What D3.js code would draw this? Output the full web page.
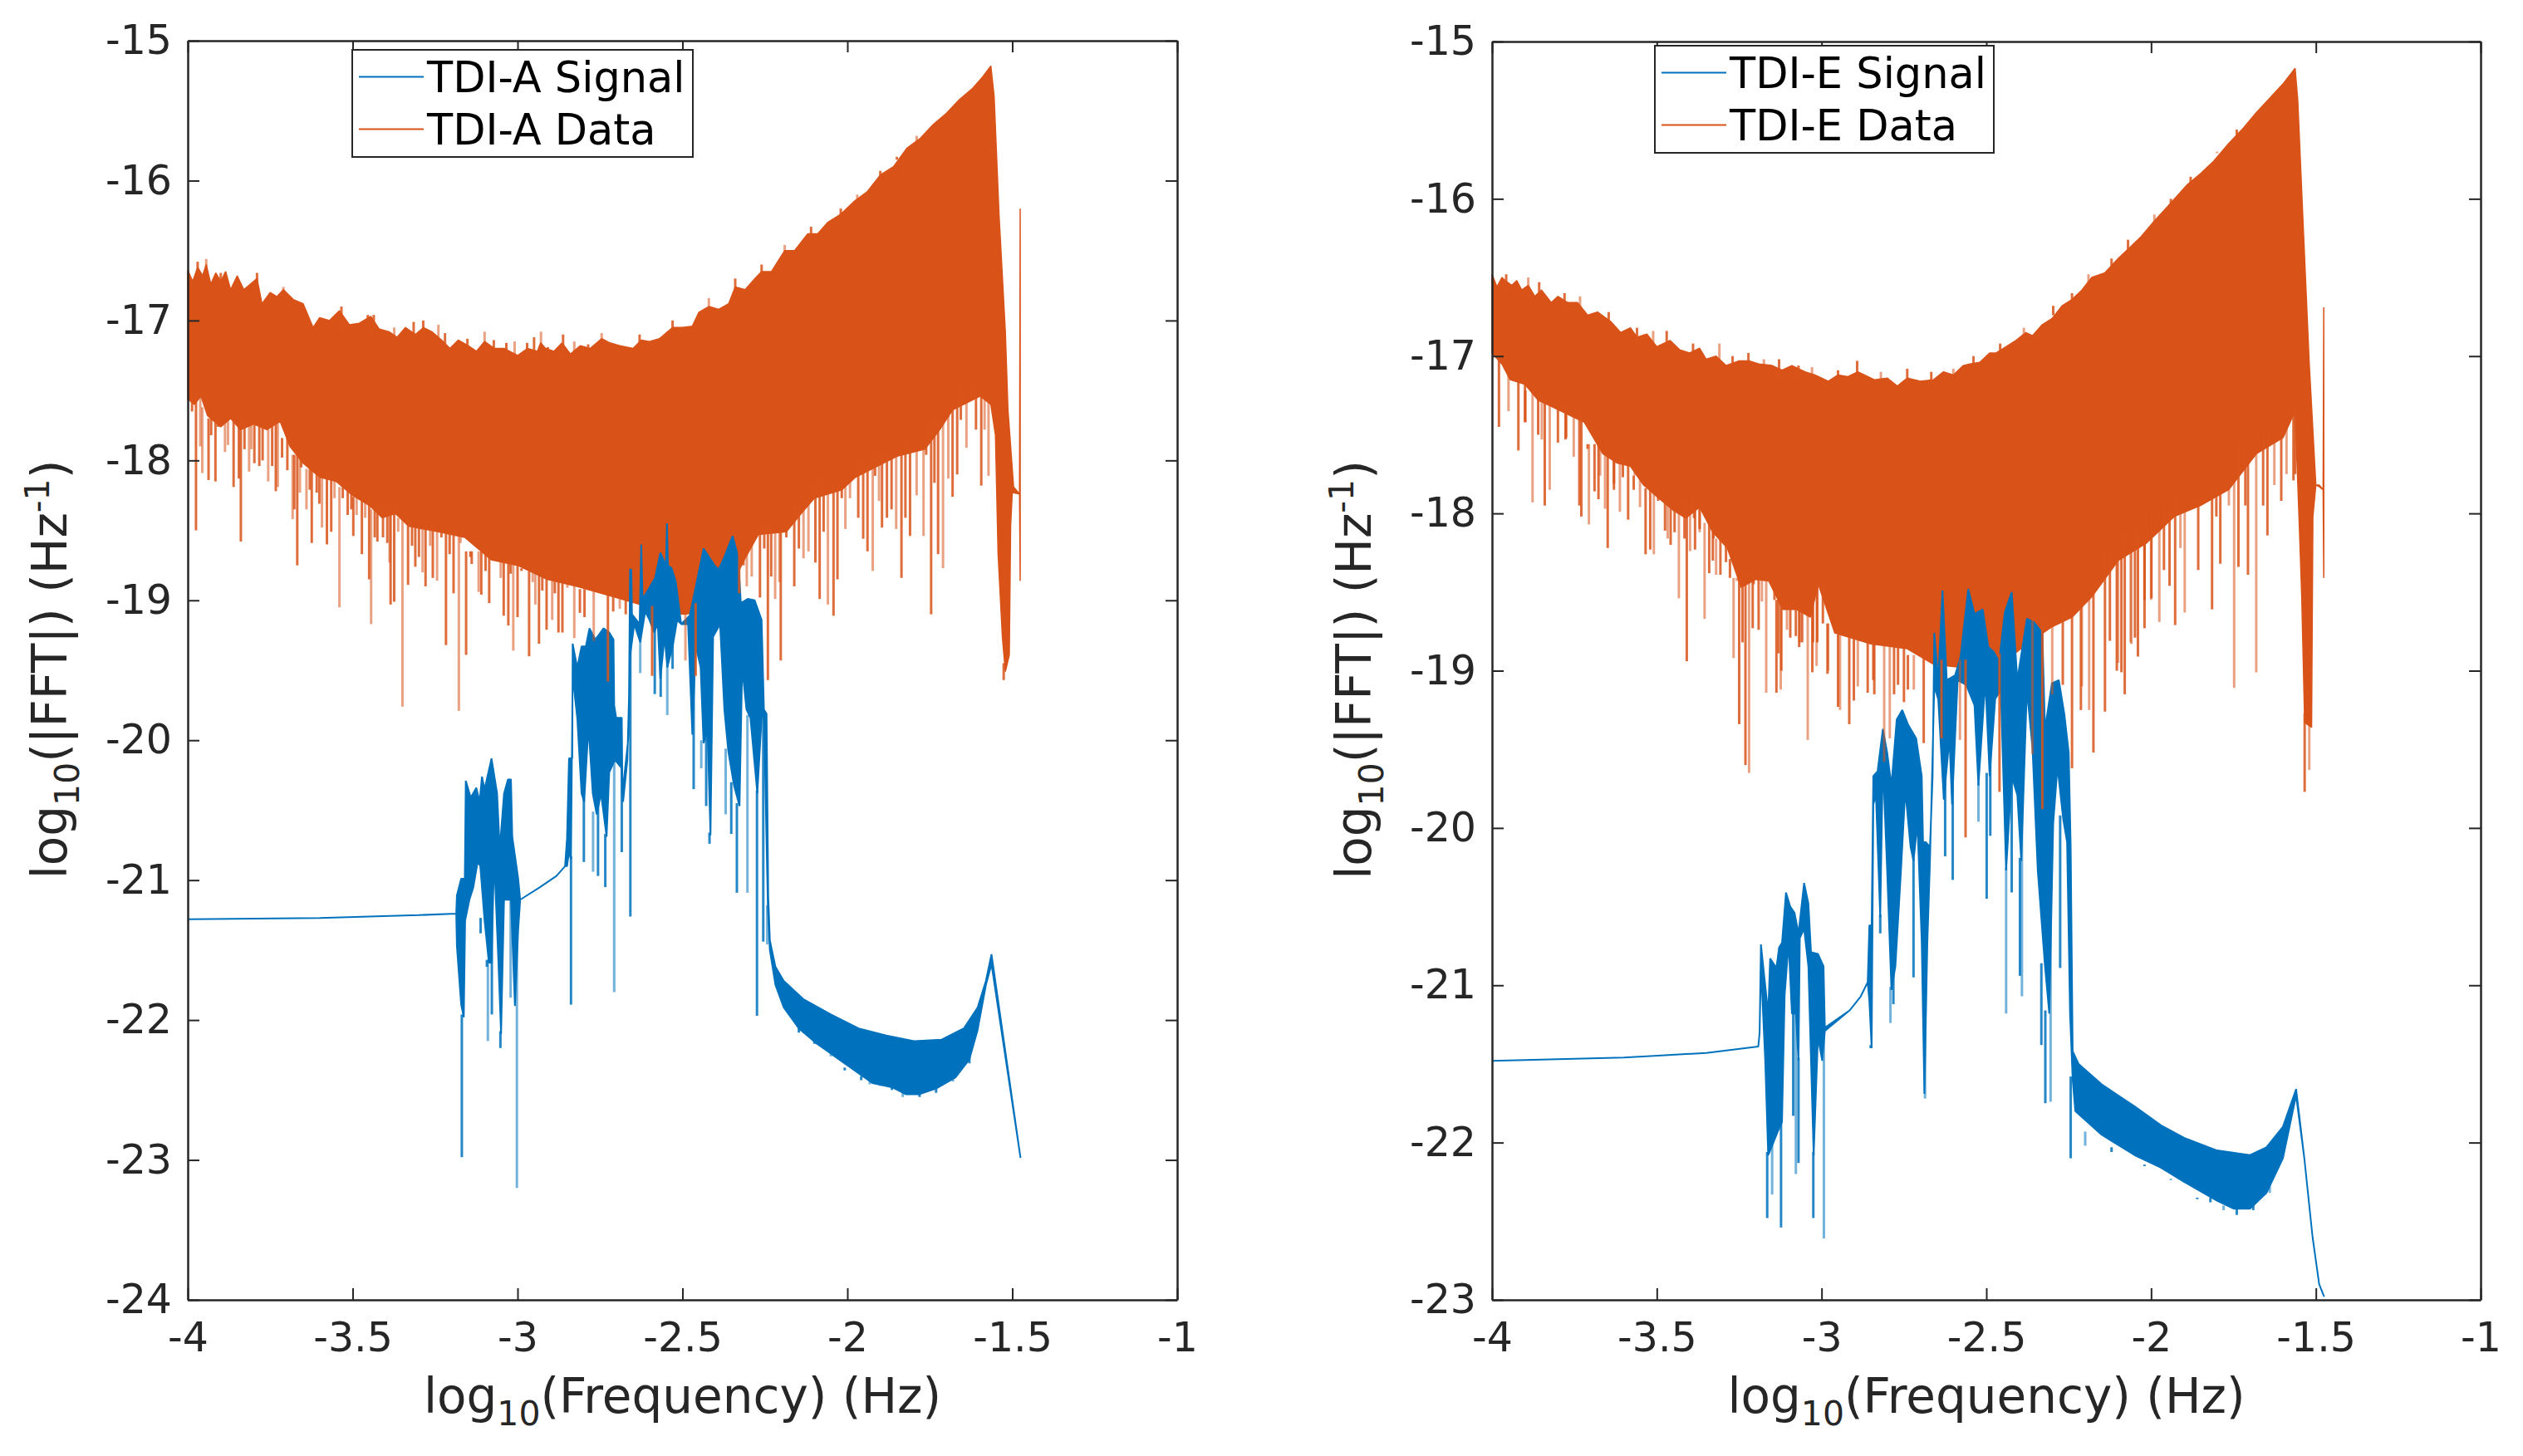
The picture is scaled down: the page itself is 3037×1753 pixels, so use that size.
<!DOCTYPE html>
<html>
<head>
  <meta charset="utf-8"/>
  <title>TDI A and E spectra</title>
  <script src="https://d3js.org/d3.v7.min.js"></script>
  <style>
    body { margin: 0; background: #fff; }
    text { font-family: "DejaVu Sans", sans-serif; fill: #262626; }
    .legend text { fill: #000; }
  </style>
</head>
<body>
<svg width="3037" height="1753"></svg>
<script>

const xTicks = [-4, -3.5, -3, -2.5, -2, -1.5, -1];
const yTicksA = [-24, -23, -22, -21, -20, -19, -18, -17, -16, -15];
const yTicksE = [-23, -22, -21, -20, -19, -18, -17, -16, -15];

// values: [log10 f, log10 |FFT|]
const dataTopA = [[-4,-16.64],[-3.985,-16.72],[-3.97,-16.62],[-3.955,-16.68],[-3.944,-16.6],[-3.93,-16.74],[-3.915,-16.66],[-3.9,-16.72],[-3.885,-16.65],[-3.87,-16.78],[-3.85,-16.68],[-3.83,-16.78],[-3.81,-16.74],[-3.79,-16.7],[-3.775,-16.88],[-3.75,-16.8],[-3.73,-16.83],[-3.71,-16.78],[-3.68,-16.85],[-3.65,-16.88],[-3.62,-17.05],[-3.6,-16.98],[-3.57,-17],[-3.54,-16.93],[-3.51,-17.03],[-3.48,-17.02],[-3.445,-16.97],[-3.42,-17.06],[-3.39,-17.08],[-3.365,-17.12],[-3.34,-17.05],[-3.31,-17.1],[-3.285,-17.05],[-3.26,-17.08],[-3.23,-17.14],[-3.205,-17.2],[-3.18,-17.14],[-3.15,-17.18],[-3.125,-17.22],[-3.1,-17.15],[-3.07,-17.2],[-3.04,-17.2],[-3,-17.25],[-2.97,-17.2],[-2.94,-17.22],[-2.93,-17.16],[-2.915,-17.2],[-2.89,-17.22],[-2.865,-17.16],[-2.84,-17.24],[-2.81,-17.18],[-2.78,-17.2],[-2.745,-17.13],[-2.72,-17.16],[-2.69,-17.18],[-2.65,-17.2],[-2.625,-17.14],[-2.6,-17.15],[-2.57,-17.13],[-2.53,-17.05],[-2.5,-17.05],[-2.47,-17.04],[-2.45,-16.94],[-2.42,-16.9],[-2.39,-16.92],[-2.36,-16.88],[-2.34,-16.76],[-2.31,-16.78],[-2.28,-16.7],[-2.26,-16.65],[-2.23,-16.65],[-2.19,-16.5],[-2.16,-16.5],[-2.12,-16.38],[-2.09,-16.38],[-2.06,-16.3],[-2.02,-16.24],[-1.98,-16.15],[-1.94,-16.08],[-1.9,-15.96],[-1.86,-15.9],[-1.82,-15.77],[-1.78,-15.7],[-1.74,-15.6],[-1.7,-15.52],[-1.66,-15.42],[-1.62,-15.34],[-1.59,-15.26],[-1.565,-15.18],[-1.555,-15.4],[-1.54,-16.25],[-1.521,-17.08],[-1.513,-17.64],[-1.496,-18.19],[-1.478,-18.24],[-1.476,-16.2]];
const dataLowA = [[-4,-17.56],[-3.98,-17.6],[-3.96,-17.54],[-3.94,-17.68],[-3.9,-17.76],[-3.87,-17.7],[-3.84,-17.78],[-3.8,-17.74],[-3.76,-17.78],[-3.72,-17.72],[-3.69,-17.9],[-3.65,-18.02],[-3.6,-18.12],[-3.55,-18.15],[-3.5,-18.25],[-3.45,-18.32],[-3.41,-18.41],[-3.37,-18.38],[-3.33,-18.47],[-3.24,-18.51],[-3.16,-18.55],[-3.08,-18.71],[-3,-18.75],[-2.91,-18.85],[-2.82,-18.9],[-2.7,-18.98],[-2.6,-19.05],[-2.5,-19.1],[-2.4,-19.08],[-2.353,-18.9],[-2.31,-18.7],[-2.27,-18.53],[-2.185,-18.51],[-2.14,-18.38],[-2.1,-18.27],[-2.017,-18.21],[-1.975,-18.12],[-1.933,-18.07],[-1.849,-17.97],[-1.765,-17.92],[-1.72,-17.78],[-1.681,-17.64],[-1.597,-17.54],[-1.565,-17.6],[-1.551,-17.82],[-1.543,-18.67],[-1.53,-19.26],[-1.521,-19.51],[-1.509,-19.39],[-1.505,-18.47],[-1.5,-18.23],[-1.478,-18.24],[-1.476,-18.86]];
const dataSpikesA = [[-3.975,-18.5],[-3.956,-18.09],[-3.937,-18.14],[-3.916,-18.15],[-3.887,-17.94],[-3.861,-18.19],[-3.839,-18.58],[-3.814,-18.08],[-3.798,-18.02],[-3.783,-18.04],[-3.756,-18.15],[-3.733,-18.22],[-3.714,-17.98],[-3.682,-18.42],[-3.668,-18.75],[-3.656,-18.05],[-3.64,-18.35],[-3.624,-18.59],[-3.609,-18.23],[-3.593,-18.48],[-3.578,-18.6],[-3.565,-18.51],[-3.54,-19.05],[-3.515,-18.39],[-3.498,-18.54],[-3.488,-18.39],[-3.472,-18.67],[-3.45,-18.85],[-3.444,-19.17],[-3.425,-18.58],[-3.408,-18.55],[-3.388,-18.73],[-3.385,-19.03],[-3.374,-19.01],[-3.349,-19.76],[-3.332,-18.89],[-3.31,-18.76],[-3.288,-18.8],[-3.279,-18.9],[-3.257,-18.84],[-3.244,-18.86],[-3.217,-19.32],[-3.194,-18.95],[-3.178,-19.79],[-3.156,-19.39],[-3.139,-18.74],[-3.118,-18.94],[-3.11,-18.96],[-3.086,-19.02],[-3.051,-18.84],[-3.042,-19.11],[-3.028,-19.18],[-3.013,-19.36],[-3,-19.12],[-2.965,-19.4],[-2.946,-19.03],[-2.935,-19.31],[-2.912,-19.21],[-2.895,-19.14],[-2.876,-19.23],[-2.864,-19.23],[-2.828,-19.27],[-2.811,-19.09],[-2.797,-19.12],[-2.769,-19.29],[-2.726,-19.58],[-2.71,-19.08],[-2.69,-19.06],[-2.672,-19.1],[-2.592,-19.54],[-2.491,-19.43],[-2.46,-19.54],[-2.328,-18.95],[-2.305,-18.9],[-2.265,-18.98],[-2.241,-19.57],[-2.219,-18.99],[-2.202,-19.43],[-2.161,-18.9],[-2.133,-18.7],[-2.097,-18.73],[-2.084,-18.99],[-2.059,-19.03],[-2.042,-19.11],[-2.03,-18.85],[-2.006,-18.49],[-1.952,-18.56],[-1.939,-18.65],[-1.923,-18.79],[-1.895,-18.48],[-1.88,-18.41],[-1.852,-18.49],[-1.836,-18.84],[-1.81,-18.54],[-1.769,-18.54],[-1.746,-19.1],[-1.725,-18.67],[-1.71,-18.77],[-1.681,-18.26],[-1.667,-18.1],[-1.639,-17.91],[-1.61,-17.78],[-1.594,-18.18],[-1.572,-18.11],[-1.526,-19.57]];
const dataFringeA = [[-3.987,-17.65],[-3.962,-17.9],[-3.929,-17.82],[-3.908,-17.76],[-3.878,-17.89],[-3.845,-18.13],[-3.828,-17.92],[-3.807,-17.92],[-3.773,-18],[-3.744,-18.04],[-3.727,-18.19],[-3.698,-18.07],[-3.677,-18.35],[-3.66,-18.23],[-3.63,-18.21],[-3.601,-18.31],[-3.555,-18.27],[-3.53,-18.27],[-3.504,-18.35],[-3.462,-18.41],[-3.433,-18.55],[-3.395,-18.59],[-3.362,-18.51],[-3.32,-18.61],[-3.299,-18.69],[-3.265,-18.61],[-3.231,-18.55],[-3.206,-18.67],[-3.173,-18.59],[-3.143,-18.69],[-3.097,-18.79],[-3.072,-18.71],[-3.021,-18.81],[-2.988,-18.77],[-2.954,-18.87],[-2.925,-18.93],[-2.887,-18.95],[-2.849,-18.91],[-2.786,-18.91],[-2.315,-18.75],[-2.29,-18.83],[-2.252,-18.63],[-2.231,-18.83],[-2.206,-18.87],[-2.185,-18.55],[-2.147,-18.63],[-2.118,-18.65],[-2.072,-18.51],[-2.017,-18.27],[-1.992,-18.27],[-1.967,-18.41],[-1.916,-18.11],[-1.904,-18.29],[-1.866,-18.35],[-1.824,-18.41],[-1.79,-18.25],[-1.761,-17.96],[-1.736,-18.16],[-1.694,-18.13],[-1.656,-17.71],[-1.622,-17.57],[-1.584,-17.78]];
const dataTeethA = [[-3.97,-16.58],[-3.944,-16.56],[-3.9,-16.66],[-3.79,-16.66],[-3.71,-16.76],[-3.601,-17],[-3.534,-16.9],[-3.479,-17.03],[-3.454,-16.96],[-3.436,-16.96],[-3.374,-17.05],[-3.315,-17.01],[-3.286,-17],[-3.24,-17.03],[-3.22,-17.09],[-3.152,-17.13],[-3.1,-17.08],[-3.072,-17.14],[-3.034,-17.16],[-3.009,-17.15],[-2.971,-17.16],[-2.95,-17.12],[-2.929,-17.08],[-2.908,-17.19],[-2.862,-17.1],[-2.828,-17.15],[-2.786,-17.17],[-2.757,-17.16],[-2.745,-17.09],[-2.63,-17.1],[-2.53,-17],[-2.42,-16.84],[-2.34,-16.7],[-2.26,-16.6],[-2.19,-16.46],[-2.11,-16.33],[-2.02,-16.2],[-1.97,-16.1],[-1.9,-15.93],[-1.85,-15.85],[-1.79,-15.68]];

const signalTopA = [[-4,-21.28],[-3.6,-21.27],[-3.3,-21.25],[-3.186,-21.24],[-3.184,-21.11],[-3.171,-20.99],[-3.16,-20.99],[-3.157,-20.29],[-3.142,-20.41],[-3.125,-20.34],[-3.115,-20.44],[-3.108,-20.26],[-3.1,-20.35],[-3.079,-20.13],[-3.062,-20.38],[-3.054,-20.78],[-3.041,-20.38],[-3.029,-20.28],[-3.02,-20.28],[-3.016,-20.69],[-2.998,-20.99],[-2.992,-21.14],[-2.932,-21.05],[-2.882,-20.97],[-2.856,-20.9],[-2.85,-20.7],[-2.844,-20.13],[-2.834,-20.13],[-2.833,-19.31],[-2.819,-19.48],[-2.806,-19.33],[-2.793,-19.33],[-2.782,-19.2],[-2.764,-19.28],[-2.739,-19.2],[-2.722,-19.23],[-2.709,-19.28],[-2.707,-19.75],[-2.701,-19.84],[-2.684,-19.84],[-2.682,-20.38],[-2.663,-19.96],[-2.659,-18.78],[-2.655,-18.78],[-2.653,-19.1],[-2.63,-19.17],[-2.625,-18.6],[-2.621,-18.99],[-2.6,-18.91],[-2.583,-18.84],[-2.567,-18.66],[-2.55,-18.75],[-2.547,-18.45],[-2.544,-18.75],[-2.533,-18.77],[-2.52,-18.87],[-2.504,-19.17],[-2.478,-19.11],[-2.462,-18.93],[-2.436,-18.63],[-2.403,-18.75],[-2.39,-18.78],[-2.373,-18.69],[-2.348,-18.54],[-2.331,-18.69],[-2.323,-19.02],[-2.302,-18.99],[-2.281,-19],[-2.26,-19.14],[-2.253,-19.78],[-2.245,-19.81],[-2.24,-21.11],[-2.235,-21.43],[-2.218,-21.62],[-2.193,-21.72],[-2.134,-21.85],[-2.05,-21.96],[-1.966,-22.06],[-1.882,-22.11],[-1.798,-22.15],[-1.714,-22.14],[-1.647,-22.06],[-1.605,-21.91],[-1.58,-21.72],[-1.563,-21.53],[-1.475,-22.985]];
const signalLowA = [[-4,-21.28],[-3.6,-21.27],[-3.3,-21.25],[-3.186,-21.24],[-3.184,-21.47],[-3.171,-21.89],[-3.163,-21.98],[-3.159,-21.29],[-3.146,-21.14],[-3.134,-21.05],[-3.121,-20.87],[-3.113,-20.9],[-3.1,-21.29],[-3.087,-21.59],[-3.079,-21.59],[-3.071,-20.84],[-3.058,-21.59],[-3.05,-22.1],[-3.041,-21.14],[-3.02,-21.14],[-3.008,-21.9],[-2.998,-21.35],[-2.992,-21.14],[-2.932,-21.05],[-2.882,-20.97],[-2.856,-20.9],[-2.85,-20.9],[-2.844,-20.8],[-2.838,-20.85],[-2.833,-19.54],[-2.819,-19.84],[-2.806,-20.38],[-2.798,-20.44],[-2.785,-19.9],[-2.772,-20.38],[-2.76,-20.53],[-2.747,-20.38],[-2.73,-20.69],[-2.722,-20.23],[-2.705,-20.14],[-2.684,-20.2],[-2.68,-20.44],[-2.667,-20.14],[-2.659,-19.4],[-2.646,-19.17],[-2.628,-19.3],[-2.613,-19.08],[-2.6,-19.14],[-2.586,-19.23],[-2.575,-19.17],[-2.567,-19.56],[-2.554,-19.26],[-2.546,-19.48],[-2.529,-19.32],[-2.516,-19.14],[-2.504,-19.17],[-2.483,-19.17],[-2.47,-19.96],[-2.46,-19.32],[-2.445,-19.48],[-2.436,-20.02],[-2.424,-19.93],[-2.415,-20.68],[-2.407,-19.26],[-2.386,-19.17],[-2.373,-19.78],[-2.361,-20.08],[-2.344,-20.32],[-2.327,-20.47],[-2.319,-19.48],[-2.306,-19.78],[-2.294,-19.84],[-2.273,-20.38],[-2.26,-19.84],[-2.253,-19.8],[-2.241,-21.2],[-2.235,-21.5],[-2.218,-21.75],[-2.193,-21.91],[-2.147,-22.06],[-2.092,-22.17],[-2.05,-22.24],[-1.966,-22.38],[-1.924,-22.45],[-1.865,-22.48],[-1.823,-22.53],[-1.781,-22.53],[-1.731,-22.49],[-1.672,-22.41],[-1.63,-22.28],[-1.605,-22.07],[-1.58,-21.75],[-1.563,-21.6],[-1.475,-22.985]];
const signalSpikesA = [[-3.169,-22.98],[-3.002,-23.2],[-3.093,-21.62],[-3.112,-21.38],[-3.09,-22.15],[-3.078,-21.96],[-3.052,-22.2],[-3.021,-21.84],[-2.838,-21.89],[-2.799,-20.87],[-2.771,-20.94],[-2.756,-20.97],[-2.734,-21.05],[-2.707,-21.8],[-2.684,-20.8],[-2.658,-21.26],[-2.628,-19.52],[-2.584,-19.67],[-2.566,-19.69],[-2.546,-19.82],[-2.53,-19.49],[-2.466,-20.35],[-2.443,-20.2],[-2.428,-20.47],[-2.418,-20.74],[-2.369,-20.53],[-2.352,-20.67],[-2.335,-21.09],[-2.303,-21.09],[-2.274,-21.97],[-2.255,-21.44],[-2.243,-21.46],[-2.147,-22.09],[-2.1,-22.17],[-2.05,-22.26],[-2.008,-22.34],[-1.958,-22.4],[-1.932,-22.46],[-1.9,-22.47],[-1.865,-22.5],[-1.832,-22.55],[-1.781,-22.55],[-1.731,-22.52],[-1.68,-22.44],[-1.63,-22.31]];

const dataTopE = [[-4,-16.48],[-3.985,-16.56],[-3.97,-16.5],[-3.96,-16.52],[-3.94,-16.55],[-3.925,-16.52],[-3.91,-16.58],[-3.89,-16.55],[-3.87,-16.62],[-3.85,-16.58],[-3.82,-16.66],[-3.8,-16.62],[-3.77,-16.66],[-3.74,-16.66],[-3.71,-16.74],[-3.68,-16.72],[-3.64,-16.78],[-3.61,-16.85],[-3.58,-16.82],[-3.56,-16.88],[-3.53,-16.86],[-3.5,-16.94],[-3.46,-16.9],[-3.43,-16.96],[-3.4,-16.98],[-3.37,-16.95],[-3.35,-17.02],[-3.32,-17],[-3.29,-17.06],[-3.25,-17.03],[-3.22,-17.03],[-3.19,-17.05],[-3.15,-17.06],[-3.12,-17.09],[-3.09,-17.06],[-3.05,-17.1],[-3.02,-17.12],[-2.98,-17.16],[-2.95,-17.12],[-2.92,-17.13],[-2.89,-17.1],[-2.87,-17.12],[-2.84,-17.15],[-2.8,-17.14],[-2.77,-17.19],[-2.74,-17.14],[-2.7,-17.16],[-2.66,-17.15],[-2.63,-17.1],[-2.6,-17.12],[-2.57,-17.06],[-2.55,-17.05],[-2.52,-17.04],[-2.49,-16.98],[-2.47,-16.98],[-2.44,-16.94],[-2.41,-16.9],[-2.38,-16.85],[-2.36,-16.87],[-2.33,-16.8],[-2.3,-16.76],[-2.27,-16.68],[-2.24,-16.64],[-2.21,-16.58],[-2.18,-16.5],[-2.14,-16.47],[-2.1,-16.38],[-2.06,-16.3],[-2.03,-16.24],[-1.99,-16.14],[-1.95,-16.05],[-1.92,-15.98],[-1.89,-15.91],[-1.85,-15.84],[-1.81,-15.76],[-1.765,-15.65],[-1.72,-15.55],[-1.68,-15.45],[-1.64,-15.36],[-1.6,-15.27],[-1.563,-15.17],[-1.555,-15.37],[-1.537,-16.24],[-1.52,-17.05],[-1.5,-17.82],[-1.49,-17.82],[-1.478,-17.85],[-1.476,-16.69]];
const dataLowE = [[-4,-16.98],[-3.97,-17.05],[-3.945,-17.15],[-3.9,-17.18],[-3.86,-17.28],[-3.82,-17.32],[-3.76,-17.38],[-3.72,-17.42],[-3.664,-17.62],[-3.62,-17.68],[-3.58,-17.7],[-3.54,-17.82],[-3.496,-17.9],[-3.45,-17.98],[-3.412,-18.03],[-3.37,-17.96],[-3.33,-18.12],[-3.286,-18.22],[-3.244,-18.47],[-3.2,-18.42],[-3.16,-18.43],[-3.118,-18.61],[-3.076,-18.61],[-3.034,-18.66],[-3.01,-18.45],[-2.96,-18.76],[-2.85,-18.83],[-2.74,-18.86],[-2.66,-18.96],[-2.53,-18.99],[-2.45,-18.95],[-2.37,-18.82],[-2.3,-18.72],[-2.24,-18.66],[-2.18,-18.53],[-2.1,-18.3],[-2.015,-18.19],[-1.93,-18.02],[-1.85,-17.95],[-1.765,-17.85],[-1.68,-17.62],[-1.6,-17.52],[-1.563,-17.35],[-1.55,-18.09],[-1.543,-18.52],[-1.534,-19.33],[-1.513,-19.36],[-1.509,-18.02],[-1.5,-17.82],[-1.49,-17.83],[-1.478,-17.85],[-1.476,-18.41]];
const dataSpikesE = [[-3.979,-17.45],[-3.95,-17.35],[-3.92,-17.6],[-3.9,-17.42],[-3.877,-17.93],[-3.86,-17.5],[-3.84,-17.95],[-3.825,-17.85],[-3.8,-17.55],[-3.775,-17.52],[-3.752,-17.64],[-3.735,-17.95],[-3.729,-18.02],[-3.706,-18.07],[-3.689,-17.86],[-3.677,-17.91],[-3.657,-17.97],[-3.649,-18.22],[-3.63,-17.85],[-3.612,-17.99],[-3.587,-18.04],[-3.57,-17.85],[-3.551,-17.96],[-3.534,-18.26],[-3.52,-18.23],[-3.509,-18.26],[-3.475,-18.11],[-3.458,-18.2],[-3.433,-18.54],[-3.416,-18.16],[-3.409,-18.94],[-3.399,-18.24],[-3.384,-18.23],[-3.37,-18.1],[-3.355,-18.67],[-3.341,-18.38],[-3.33,-18.3],[-3.32,-18.39],[-3.307,-18.39],[-3.29,-18.31],[-3.267,-18.92],[-3.25,-19.34],[-3.231,-19.6],[-3.22,-19.65],[-3.209,-18.73],[-3.191,-18.74],[-3.168,-19.14],[-3.137,-19.14],[-3.122,-19],[-3.105,-18.74],[-3.078,-18.78],[-3.068,-18.85],[-3.042,-19.44],[-3.028,-19.01],[-3.013,-18.82],[-2.98,-19],[-2.95,-19.23],[-2.916,-19.34],[-2.89,-19.1],[-2.86,-19.14],[-2.84,-19.15],[-2.81,-19.58],[-2.78,-19.15],[-2.75,-19.2],[-2.72,-19.12],[-2.69,-19.46],[-2.636,-19.43],[-2.58,-19.44],[-2.563,-20.06],[-2.46,-19.77],[-2.36,-19.53],[-2.33,-19.88],[-2.24,-19.62],[-2.21,-19.1],[-2.175,-19.52],[-2.14,-19.26],[-2.1,-18.95],[-2.09,-19.01],[-2.08,-19.15],[-2.06,-18.83],[-2.04,-18.91],[-2.02,-18.73],[-1.975,-18.69],[-1.944,-18.46],[-1.927,-18.71],[-1.898,-18.63],[-1.815,-18.61],[-1.79,-18.32],[-1.748,-19.11],[-1.735,-18.34],[-1.706,-18.39],[-1.681,-19.01],[-1.647,-18.14],[-1.605,-17.92],[-1.589,-17.75],[-1.568,-17.79],[-1.534,-19.77],[-1.52,-19.63]];
const dataFringeE = [[-3.899,-17.42],[-3.849,-17.53],[-3.777,-17.53],[-3.71,-17.59],[-3.672,-17.76],[-3.63,-17.81],[-3.603,-17.77],[-3.567,-17.71],[-3.517,-17.85],[-3.496,-17.92],[-3.467,-18.16],[-3.446,-18.12],[-3.387,-18.03],[-3.37,-18.12],[-3.328,-18.08],[-3.278,-18.29],[-3.257,-18.43],[-3.24,-18.82],[-3.206,-18.45],[-3.181,-18.56],[-3.143,-18.45],[-3.131,-18.89],[-3.124,-19.12],[-3.097,-18.56],[-3.095,-18.79],[-3.066,-18.82],[-3.059,-18.82],[-3.026,-18.82],[-3.015,-18.97],[-2.996,-18.43],[-2.982,-19.02],[-2.944,-19.25],[-2.902,-19.19],[-2.843,-19.06],[-2.793,-19.43],[-2.768,-19.09],[-2.738,-19.12],[-2.3,-19.15],[-2.268,-19.09],[-2.213,-19.25],[-2.188,-19.25],[-2.125,-18.81],[-2.104,-19],[-2.062,-18.82],[-2.049,-18.79],[-2.02,-18.55],[-2,-18.55],[-1.999,-18.54],[-1.961,-18.36],[-1.911,-18.22],[-1.857,-18.36],[-1.802,-18.02],[-1.764,-17.95],[-1.714,-17.95],[-1.66,-17.95],[-1.626,-17.82],[-1.563,-17.75]];
const dataTeethE = [[-3.957,-16.48],[-3.89,-16.5],[-3.857,-16.53],[-3.78,-16.6],[-3.733,-16.62],[-3.646,-16.72],[-3.56,-16.82],[-3.511,-16.84],[-3.47,-16.84],[-3.39,-16.92],[-3.31,-16.92],[-3.27,-17],[-3.222,-16.98],[-3.175,-17.02],[-3.129,-17.02],[-3.07,-17.06],[-3.029,-17.07],[-2.95,-17.09],[-2.892,-17.03],[-2.82,-17.1],[-2.74,-17.08],[-2.667,-17.1],[-2.6,-17.08],[-2.539,-17],[-2.458,-16.92],[-2.386,-16.82],[-2.297,-16.68],[-2.24,-16.6],[-2.19,-16.48],[-2.12,-16.38],[-2.07,-16.26],[-1.99,-16.1],[-1.94,-16],[-1.88,-15.86],[-1.8,-15.7],[-1.74,-15.56],[-1.67,-15.42]];

const signalTopE = [[-4,-21.48],[-3.6,-21.46],[-3.35,-21.43],[-3.192,-21.39],[-3.188,-21.3],[-3.184,-20.74],[-3.162,-21.18],[-3.156,-20.83],[-3.137,-20.89],[-3.129,-20.76],[-3.12,-20.73],[-3.108,-20.41],[-3.095,-20.5],[-3.082,-20.54],[-3.07,-20.67],[-3.053,-20.35],[-3.04,-20.48],[-3.032,-20.79],[-3.011,-20.8],[-2.994,-20.88],[-2.99,-21.27],[-2.915,-21.16],[-2.881,-21.07],[-2.86,-20.98],[-2.855,-20.62],[-2.848,-20.62],[-2.843,-19.67],[-2.83,-19.64],[-2.814,-19.37],[-2.801,-19.52],[-2.788,-19.73],[-2.772,-19.31],[-2.755,-19.25],[-2.738,-19.34],[-2.713,-19.43],[-2.696,-19.67],[-2.692,-20.09],[-2.684,-20.09],[-2.671,-20.12],[-2.663,-19.67],[-2.658,-18.76],[-2.646,-19.06],[-2.633,-18.49],[-2.62,-19.06],[-2.595,-19.03],[-2.578,-18.91],[-2.555,-18.48],[-2.536,-18.64],[-2.511,-18.61],[-2.494,-18.85],[-2.478,-18.88],[-2.461,-18.94],[-2.444,-18.63],[-2.423,-18.5],[-2.406,-19.06],[-2.377,-18.67],[-2.356,-18.69],[-2.33,-18.76],[-2.322,-19.37],[-2.301,-19.08],[-2.28,-19.06],[-2.263,-19.28],[-2.25,-19.52],[-2.244,-20.12],[-2.238,-21.42],[-2.22,-21.5],[-2.15,-21.63],[-2.05,-21.77],[-1.97,-21.89],[-1.9,-21.97],[-1.8,-22.05],[-1.7,-22.08],[-1.65,-22.03],[-1.6,-21.9],[-1.575,-21.75],[-1.56,-21.66],[-1.535,-22.1],[-1.51,-22.6],[-1.49,-22.9],[-1.475,-22.98]];
const signalLowE = [[-4,-21.48],[-3.6,-21.46],[-3.35,-21.43],[-3.192,-21.39],[-3.188,-21.3],[-3.184,-20.88],[-3.171,-21.48],[-3.162,-22.08],[-3.15,-22.02],[-3.133,-21.93],[-3.12,-21.87],[-3.112,-21.06],[-3.1,-20.73],[-3.09,-21.18],[-3.078,-21.18],[-3.07,-21.48],[-3.066,-20.7],[-3.053,-20.64],[-3.04,-20.88],[-3.032,-21.48],[-3.024,-22.08],[-3.011,-21.33],[-2.998,-21.48],[-2.99,-21.29],[-2.915,-21.16],[-2.881,-21.07],[-2.86,-20.98],[-2.855,-21.1],[-2.848,-21.4],[-2.843,-19.85],[-2.835,-19.79],[-2.822,-20.57],[-2.814,-19.58],[-2.801,-20.27],[-2.788,-21.03],[-2.776,-20.88],[-2.759,-20.27],[-2.746,-19.76],[-2.73,-20.12],[-2.721,-20.21],[-2.709,-19.97],[-2.696,-20.73],[-2.688,-21.69],[-2.679,-20.73],[-2.671,-20.21],[-2.658,-19.1],[-2.646,-19.18],[-2.629,-19.82],[-2.612,-19.43],[-2.604,-19.85],[-2.587,-19.06],[-2.561,-19.09],[-2.536,-19.22],[-2.524,-19.73],[-2.503,-19.06],[-2.49,-19.67],[-2.473,-19.18],[-2.456,-19.12],[-2.44,-20.27],[-2.423,-19.67],[-2.406,-19.79],[-2.394,-20.21],[-2.377,-19.12],[-2.36,-19.49],[-2.344,-20.27],[-2.322,-20.88],[-2.309,-21.18],[-2.297,-19.97],[-2.284,-19.61],[-2.267,-19.94],[-2.255,-20.09],[-2.246,-21.18],[-2.238,-21.6],[-2.23,-21.8],[-2.15,-21.95],[-2.05,-22.08],[-1.97,-22.16],[-1.9,-22.25],[-1.8,-22.37],[-1.75,-22.42],[-1.7,-22.42],[-1.65,-22.32],[-1.6,-22.1],[-1.575,-21.85],[-1.56,-21.7],[-1.535,-22.1],[-1.51,-22.6],[-1.49,-22.9],[-1.475,-22.98]];
const signalSpikesE = [[-3.165,-22.48],[-3.15,-22.33],[-3.123,-22.54],[-3.086,-21.83],[-3.078,-22.2],[-3.07,-22.13],[-3.025,-22.48],[-2.993,-22.61],[-2.851,-21.4],[-2.822,-20.67],[-2.791,-21.24],[-2.782,-21.12],[-2.721,-20.95],[-2.686,-21.72],[-2.625,-20.18],[-2.602,-20.33],[-2.524,-19.96],[-2.499,-20.45],[-2.488,-20.05],[-2.44,-21.18],[-2.423,-20.41],[-2.398,-20.94],[-2.392,-21.07],[-2.333,-21.38],[-2.321,-21.75],[-2.305,-21.74],[-2.276,-20.89],[-2.244,-22.1],[-2.2,-22.02],[-2.12,-22.03],[-2.02,-22.15],[-1.94,-22.24],[-1.86,-22.36],[-1.82,-22.38],[-1.78,-22.43],[-1.74,-22.46],[-1.69,-22.43],[-1.64,-22.32]];

const blue = "#0072BD";
const orange = "#D95319";
const svg = d3.select("svg");

const edgeAt = (edge, x) => {
  const i = d3.bisector(d => d[0]).left(edge, x);
  return edge[Math.min(i, edge.length - 1)][1];
};

function drawPanel(p) {
  const x = d3.scaleLinear().domain([-4, -1]).range([p.left, p.right]);
  const y = d3.scaleLinear().domain(p.yDomain).range([p.bottom, p.top]);
  const line = d3.line().x(d => x(d[0])).y(d => y(d[1]));
  const band = (top, low) => line(top.concat(low.slice().reverse())) + "Z";

  const g = svg.append("g");

  // every third spike lands between pixels in the reference and reads paler
  const spikes = (cls, rows, edge, lift, color) => g.selectAll("." + cls)
      .data(rows)
      .join("line")
      .attr("class", cls)
      .attr("x1", d => x(d[0]))
      .attr("x2", d => x(d[0]))
      .attr("y1", d => y(edgeAt(edge, d[0]) + lift))
      .attr("y2", d => y(d[1]))
      .attr("stroke", color)
      .attr("stroke-width", 3)
      .attr("stroke-opacity", (d, i) => i % 3 === 1 ? 0.55 : 0.85);

  g.append("path")
      .attr("d", band(p.dataTop, p.dataLow))
      .attr("fill", orange)
      .attr("stroke", orange)
      .attr("stroke-width", 1.5)
      .attr("stroke-linejoin", "bevel");
  spikes("data-tooth", p.dataTeeth, p.dataTop, -0.06, orange);

  g.append("path")
      .attr("d", band(p.signalTop, p.signalLow))
      .attr("fill", blue)
      .attr("stroke", blue)
      .attr("stroke-width", 2)
      .attr("stroke-linejoin", "bevel");
  spikes("sig-spike", p.signalSpikes, p.signalLow, 0.02, blue);

  spikes("data-spike", p.dataSpikes, p.dataLow, 0.06, orange);
  spikes("data-fringe", p.dataFringe, p.dataLow, 0.06, orange);

  // axes, MATLAB box with inward ticks
  const fmt = d => String(d);
  const style = a => {
    a.selectAll("path").attr("stroke", "#262626").attr("stroke-width", 2.5);
    a.selectAll("line").attr("stroke", "#262626").attr("stroke-width", 2);
    a.selectAll("text").attr("font-size", 49).attr("fill", "#262626")
        .attr("font-family", "DejaVu Sans");
  };
  g.append("g").attr("transform", `translate(0,${p.bottom})`)
      .call(d3.axisBottom(x).tickValues(xTicks).tickFormat(fmt)
          .tickSizeInner(-14).tickSizeOuter(0).tickPadding(27))
      .call(style);
  g.append("g").attr("transform", `translate(0,${p.top})`)
      .call(d3.axisTop(x).tickValues(xTicks).tickFormat("")
          .tickSizeInner(-14).tickSizeOuter(0))
      .call(style);
  g.append("g").attr("transform", `translate(${p.left},0)`)
      .call(d3.axisLeft(y).tickValues(p.yTicks).tickFormat(fmt)
          .tickSizeInner(-14).tickSizeOuter(0).tickPadding(19))
      .call(style);
  g.append("g").attr("transform", `translate(${p.right},0)`)
      .call(d3.axisRight(y).tickValues(p.yTicks).tickFormat("")
          .tickSizeInner(-14).tickSizeOuter(0))
      .call(style);

  // axis titles
  const xt = g.append("text")
      .attr("x", (p.left + p.right) / 2).attr("y", 1701)
      .attr("text-anchor", "middle").attr("font-size", 58);
  xt.append("tspan").text("log");
  xt.append("tspan").attr("dy", 15).attr("font-size", 41).text("10");
  xt.append("tspan").attr("dy", -15).text("(Frequency) (Hz)");

  const yt = g.append("text")
      .attr("transform", `translate(${p.left - 146},${(p.top + p.bottom) / 2 - 1}) rotate(-90)`)
      .attr("text-anchor", "middle").attr("font-size", 58);
  yt.append("tspan").text("log");
  yt.append("tspan").attr("dy", 15).attr("font-size", 41).text("10");
  yt.append("tspan").attr("dy", -15).text("(|FFT|) (Hz");
  yt.append("tspan").attr("dy", -21).attr("font-size", 41).text("-1");
  yt.append("tspan").attr("dy", 21).text(")");

  // legend
  const l = svg.append("g").attr("class", "legend");
  l.append("rect")
      .attr("x", p.legend.x).attr("y", p.legend.y)
      .attr("width", p.legend.w).attr("height", p.legend.h)
      .attr("fill", "#fff").attr("stroke", "#262626").attr("stroke-width", 2);
  p.legend.items.forEach((name, i) => {
    const ly = p.legend.y + 32.5 + i * 63;
    l.append("line")
        .attr("x1", p.legend.x + 8).attr("x2", p.legend.x + 86)
        .attr("y1", ly).attr("y2", ly)
        .attr("stroke", i ? orange : blue).attr("stroke-width", 2);
    l.append("text")
        .attr("x", p.legend.x + 90).attr("y", ly + 18)
        .attr("font-size", 51).text(name);
  });
}

drawPanel({
  left: 226, right: 1417, top: 49, bottom: 1565,
  yDomain: [-24, -15], yTicks: yTicksA,
  dataTop: dataTopA, dataLow: dataLowA, dataSpikes: dataSpikesA, dataFringe: dataFringeA, dataTeeth: dataTeethA,
  signalTop: signalTopA, signalLow: signalLowA, signalSpikes: signalSpikesA,
  legend: { x: 424, y: 60, w: 410, h: 129, items: ["TDI-A Signal", "TDI-A Data"] }
});

drawPanel({
  left: 1796, right: 2986, top: 50, bottom: 1565,
  yDomain: [-23, -15], yTicks: yTicksE,
  dataTop: dataTopE, dataLow: dataLowE, dataSpikes: dataSpikesE, dataFringe: dataFringeE, dataTeeth: dataTeethE,
  signalTop: signalTopE, signalLow: signalLowE, signalSpikes: signalSpikesE,
  legend: { x: 1992, y: 55, w: 408, h: 129, items: ["TDI-E Signal", "TDI-E Data"] }
});

</script>
</body>
</html>
